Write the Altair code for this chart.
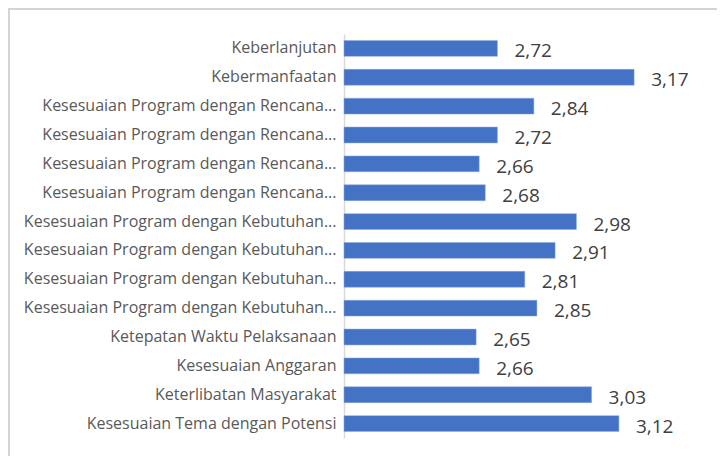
import altair as alt
import pandas as pd

labels = [
    "Keberlanjutan",
    "Kebermanfaatan",
    "Kesesuaian Program dengan Rencana...",
    "Kesesuaian Program dengan Rencana...",
    "Kesesuaian Program dengan Rencana...",
    "Kesesuaian Program dengan Rencana...",
    "Kesesuaian Program dengan Kebutuhan...",
    "Kesesuaian Program dengan Kebutuhan...",
    "Kesesuaian Program dengan Kebutuhan...",
    "Kesesuaian Program dengan Kebutuhan...",
    "Ketepatan Waktu Pelaksanaan",
    "Kesesuaian Anggaran",
    "Keterlibatan Masyarakat",
    "Kesesuaian Tema dengan Potensi",
]
values = [2.72, 3.17, 2.84, 2.72, 2.66, 2.68, 2.98, 2.91, 2.81, 2.85, 2.65, 2.66, 3.03, 3.12]

df = pd.DataFrame({"idx": list(range(len(labels))), "label": labels, "value": values})
label_expr = "[" + ",".join('"' + l + '"' for l in labels) + "][toNumber(datum.value)]"

XMIN, XMAX = 2.215, 3.4
FONT = "Open Sans"

y = alt.Y("idx:O", sort=None, title=None,
          scale=alt.Scale(paddingInner=0.45, paddingOuter=0.225),
          axis=alt.Axis(labelExpr=label_expr, ticks=False, domain=True,
                        domainColor="#d9d9d9", domainWidth=1.5,
                        labelFont=FONT, labelFontSize=16, labelColor="#595959",
                        labelPadding=8, labelLimit=400))
x = alt.X("value:Q", title=None,
          scale=alt.Scale(domain=[XMIN, XMAX], zero=False, nice=False, clamp=True),
          axis=None)

base = alt.Chart(df).transform_calculate(
    txt="replace(format(datum.value, '.2f'), '.', ',')"
)

bars = base.mark_bar(color="#4472c4", stroke="#8faadc", strokeWidth=0.5).encode(
    y=y, x=x, x2=alt.datum(XMIN)
)
text = base.mark_text(align="left", baseline="middle", dx=17, dy=3,
                      font=FONT, fontSize=19, color="#404040").encode(
    y=y, x=x, text="txt:N"
)

frame = alt.Chart(pd.DataFrame({"k": [0]})).mark_rect(
    fill=None, fillOpacity=0, stroke="#d4d4d4", strokeWidth=2, clip=False
).encode(
    x=alt.value(-335), x2=alt.value(420), y=alt.value(-25), y2=alt.value(470)
)

chart = alt.layer(frame, bars, text).properties(
    width=360, height=404,
    autosize=alt.AutoSizeParams(type="none"),
    padding={"left": 336, "top": 26, "right": 13, "bottom": 18},
).configure(background="white").configure_view(stroke=None)

chart.save("out.html", embed_options={"renderer": "svg", "actions": False})
